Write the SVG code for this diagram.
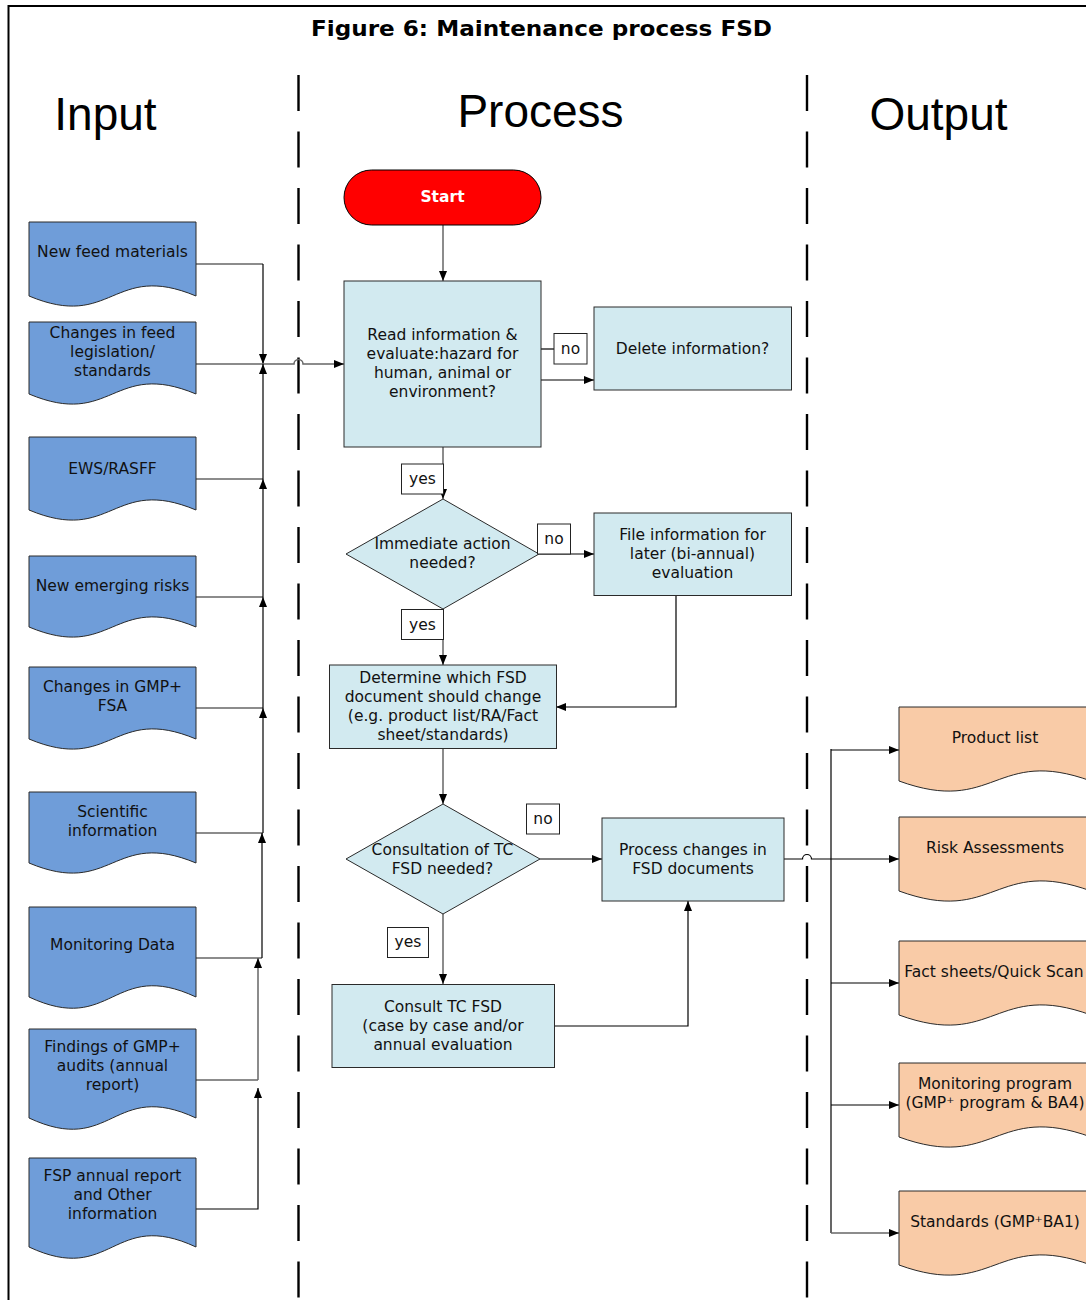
<svg xmlns="http://www.w3.org/2000/svg" width="1086" height="1300" viewBox="0 0 1086 1300">
<defs>
<style>
text{font-family:"DejaVu Sans","Verdana",sans-serif;font-size:15.5px;fill:#111;text-anchor:middle}
.hdr{font-family:"Liberation Sans",Arial,sans-serif;font-size:46px;fill:#000}
.ttl{font-weight:bold;font-size:21.5px;fill:#000}
.in{fill:#6F9DD9;stroke:#2a2a2a;stroke-width:1}
.out{fill:#F9CBA7;stroke:#2a2a2a;stroke-width:1}
.box{fill:#D2EAF0;stroke:#2a2a2a;stroke-width:1}
.lbl{fill:#fff;stroke:#222;stroke-width:1}
.c{fill:none;stroke:#000;stroke-width:1.2}
.g{fill:none;stroke:#666;stroke-width:1.5}
.lane{fill:none;stroke:#000;stroke-width:2.4;stroke-dasharray:36 20.5}
</style>
<marker id="ah" viewBox="0 0 10 8" refX="10" refY="4" markerWidth="10" markerHeight="8" markerUnits="userSpaceOnUse" orient="auto"><path d="M0,0 L10,4 L0,8 Z" fill="#000"/></marker>
</defs>
<rect width="1086" height="1300" fill="#fff"/>
<path d="M8.5,1300 V6 H1086" fill="none" stroke="#000" stroke-width="2"/>
<text class="ttl" x="541.5" y="36" textLength="461" lengthAdjust="spacingAndGlyphs">Figure 6: Maintenance process FSD</text>
<text class="hdr" x="105.5" y="130">Input</text>
<text class="hdr" x="540.5" y="127">Process</text>
<text class="hdr" x="938.5" y="130">Output</text>
<line class="lane" x1="298.5" y1="75" x2="298.5" y2="1300"/>
<line class="lane" x1="807" y1="75" x2="807" y2="1300"/>

<g id="connectors">
<polyline class="g" points="196,264 263,264"/>
<polyline class="c" points="263,264 263,364" marker-end="url(#ah)"/>
<path class="g" d="M196,364 H294 A4.5,4.5 0 0 1 303,364 H344" marker-end="url(#ah)"/>
<polyline class="g" points="196,479 263,479"/>
<polyline class="c" points="263,479 263,364" marker-end="url(#ah)"/>
<polyline class="g" points="196,597 263,597"/>
<polyline class="c" points="263,597 263,479" marker-end="url(#ah)"/>
<polyline class="g" points="196,708 263,708"/>
<polyline class="c" points="263,708 263,597" marker-end="url(#ah)"/>
<polyline class="g" points="196,833 263,833"/>
<polyline class="c" points="263,833 263,708" marker-end="url(#ah)"/>
<polyline class="g" points="196,958 262,958"/>
<polyline class="c" points="262,958 262,833" marker-end="url(#ah)"/>
<polyline class="g" points="196,1080 258,1080"/>
<polyline class="g" points="258,1080 258,958" marker-end="url(#ah)"/>
<polyline class="c" points="196,1209 258,1209 258,1088" marker-end="url(#ah)"/>

<line class="g" x1="443" y1="225" x2="443" y2="281" marker-end="url(#ah)"/>
<line class="c" x1="541" y1="349" x2="554" y2="349"/>
<line class="c" x1="541" y1="380" x2="594" y2="380" marker-end="url(#ah)"/>
<line class="g" x1="443" y1="447" x2="443" y2="499" marker-end="url(#ah)"/>
<line class="c" x1="539" y1="554" x2="594" y2="554" marker-end="url(#ah)"/>
<line class="g" x1="443" y1="609" x2="443" y2="665" marker-end="url(#ah)"/>
<polyline class="c" points="676,595 676,707 556,707" marker-end="url(#ah)"/>
<line class="g" x1="443" y1="748" x2="443" y2="804" marker-end="url(#ah)"/>
<line class="c" x1="540" y1="859" x2="602" y2="859" marker-end="url(#ah)"/>
<line class="g" x1="443" y1="914" x2="443" y2="984" marker-end="url(#ah)"/>
<polyline class="c" points="554,1026 688,1026 688,901" marker-end="url(#ah)"/>

<path class="c" d="M784,859 H802.5 A4.5,4.5 0 0 1 811.5,859 H899" marker-end="url(#ah)"/>
<line class="c" x1="831" y1="749" x2="831" y2="1233"/>
<line class="c" x1="831" y1="750" x2="899" y2="750" marker-end="url(#ah)"/>
<line class="c" x1="831" y1="983" x2="899" y2="983" marker-end="url(#ah)"/>
<line class="c" x1="831" y1="1105" x2="899" y2="1105" marker-end="url(#ah)"/>
<line class="g" x1="831" y1="1233" x2="899" y2="1233" marker-end="url(#ah)"/>
</g>

<g id="in1"><path class="in" d="M29,222 H196 V296 C112.5,261 112.5,331 29,296 Z"/><text x="112.5" y="257">New feed materials</text></g>
<g id="in2"><path class="in" d="M29,322 H196 V394 C112.5,359 112.5,429 29,394 Z"/><text x="112.5" y="338">Changes in feed</text><text x="112.5" y="357">legislation/</text><text x="112.5" y="376">standards</text></g>
<g id="in3"><path class="in" d="M29,437 H196 V510 C112.5,475 112.5,545 29,510 Z"/><text x="112.5" y="474">EWS/RASFF</text></g>
<g id="in4"><path class="in" d="M29,556 H196 V627 C112.5,592 112.5,662 29,627 Z"/><text x="112.5" y="591">New emerging risks</text></g>
<g id="in5"><path class="in" d="M29,667 H196 V739 C112.5,704 112.5,774 29,739 Z"/><text x="112.5" y="692">Changes in GMP+</text><text x="112.5" y="711">FSA</text></g>
<g id="in6"><path class="in" d="M29,792 H196 V863 C112.5,828 112.5,898 29,863 Z"/><text x="112.5" y="817">Scientific</text><text x="112.5" y="836">information</text></g>
<g id="in7"><path class="in" d="M29,907 H196 V997 C112.5,958 112.5,1036 29,997 Z"/><text x="112.5" y="950">Monitoring Data</text></g>
<g id="in8"><path class="in" d="M29,1029 H196 V1118 C112.5,1079 112.5,1157 29,1118 Z"/><text x="112.5" y="1052">Findings of GMP+</text><text x="112.5" y="1071">audits (annual</text><text x="112.5" y="1090">report)</text></g>
<g id="in9"><path class="in" d="M29,1158 H196 V1247 C112.5,1208 112.5,1286 29,1247 Z"/><text x="112.5" y="1181">FSP annual report</text><text x="112.5" y="1200">and Other</text><text x="112.5" y="1219">information</text></g>

<g id="start"><rect x="344" y="170" width="197" height="55" rx="27.5" fill="#FF0000" stroke="#000" stroke-width="1"/><text x="442.5" y="202" style="font-weight:bold;fill:#fff">Start</text></g>
<g id="read"><rect class="box" x="344" y="281" width="197" height="166"/><text x="442.5" y="340">Read information &amp;</text><text x="442.5" y="359">evaluate:hazard for</text><text x="442.5" y="378">human, animal or</text><text x="442.5" y="397">environment?</text></g>
<g id="delete"><rect class="box" x="594" y="307" width="197.5" height="83"/><text x="692.5" y="354">Delete information?</text></g>
<g id="immediate"><path class="box" d="M443,499 L539,554 L443,609 L346,554 Z"/><text x="442.5" y="549">Immediate action</text><text x="442.5" y="568">needed?</text></g>
<g id="file"><rect class="box" x="594" y="513" width="197.5" height="82.5"/><text x="692.5" y="540">File information for</text><text x="692.5" y="559">later (bi-annual)</text><text x="692.5" y="578">evaluation</text></g>
<g id="determine"><rect class="box" x="329.5" y="665" width="227" height="83.5"/><text x="443" y="683">Determine which FSD</text><text x="443" y="702">document should change</text><text x="443" y="721">(e.g. product list/RA/Fact</text><text x="443" y="740">sheet/standards)</text></g>
<g id="consultation"><path class="box" d="M443,804 L540,859 L443,914 L346,859 Z"/><text x="442.5" y="855">Consultation of TC</text><text x="442.5" y="874">FSD needed?</text></g>
<g id="processchanges"><rect class="box" x="602" y="818" width="182" height="83"/><text x="693" y="855">Process changes in</text><text x="693" y="874">FSD documents</text></g>
<g id="consult"><rect class="box" x="332" y="984.5" width="222.5" height="83"/><text x="443" y="1012">Consult TC FSD</text><text x="443" y="1031">(case by case and/or</text><text x="443" y="1050">annual evaluation</text></g>

<g id="lbl-no1"><rect class="lbl" x="554" y="333.5" width="33" height="30.5"/><text x="570.5" y="354">no</text></g>
<g id="lbl-yes1"><rect class="lbl" x="401.5" y="464" width="42" height="30"/><text x="422.5" y="484">yes</text></g>
<g id="lbl-no2"><rect class="lbl" x="537.5" y="524" width="33" height="30"/><text x="554" y="544">no</text></g>
<g id="lbl-yes2"><rect class="lbl" x="401.5" y="609.5" width="42" height="30"/><text x="422.5" y="630">yes</text></g>
<g id="lbl-no3"><rect class="lbl" x="526.5" y="804" width="33" height="30"/><text x="543" y="824">no</text></g>
<g id="lbl-yes3"><rect class="lbl" x="387.5" y="927.5" width="41" height="30"/><text x="408" y="947">yes</text></g>

<g id="out1"><path class="out" d="M899,707 H1091 V781 C995,746 995,816 899,781 Z"/><text x="995" y="743">Product list</text></g>
<g id="out2"><path class="out" d="M899,817 H1091 V891 C995,856 995,926 899,891 Z"/><text x="995" y="853">Risk Assessments</text></g>
<g id="out3"><path class="out" d="M899,941 H1091 V1015 C995,980 995,1050 899,1015 Z"/><text x="994" y="977">Fact sheets/Quick Scan</text></g>
<g id="out4"><path class="out" d="M899,1063 H1091 V1137 C995,1102 995,1172 899,1137 Z"/><text x="995" y="1089">Monitoring program</text><text x="995" y="1108">(GMP⁺ program &amp; BA4)</text></g>
<g id="out5"><path class="out" d="M899,1191 H1091 V1265 C995,1230 995,1300 899,1265 Z"/><text x="995" y="1227">Standards (GMP⁺BA1)</text></g>
</svg>
